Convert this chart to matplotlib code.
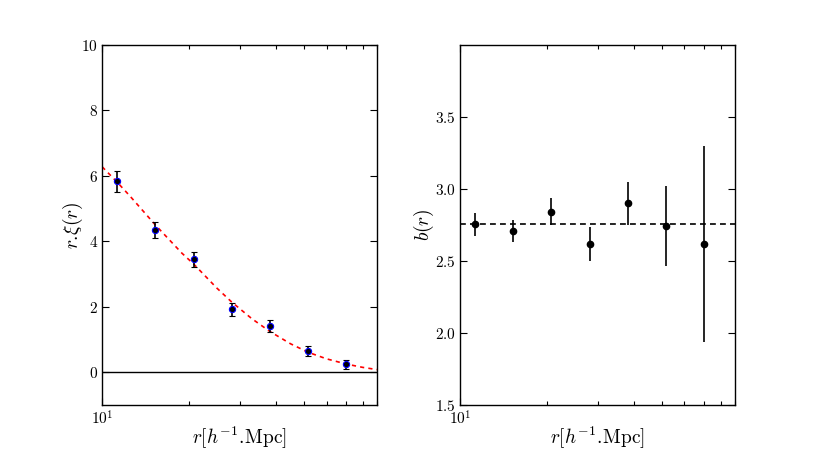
import matplotlib
matplotlib.use("Agg")
import matplotlib.pyplot as plt
from matplotlib.ticker import NullFormatter

plt.rcParams['font.family'] = 'serif'
plt.rcParams['font.serif'] = ['cmr10', 'DejaVu Serif']
plt.rcParams['mathtext.fontset'] = 'cm'
plt.rcParams['axes.formatter.use_mathtext'] = True
plt.rcParams['axes.unicode_minus'] = False

# data
r_bins = [11.27, 15.3, 20.75, 28.2, 38.2, 51.9, 70.3]
rxi = [5.83, 4.35, 3.45, 1.93, 1.41, 0.645, 0.24]
rxi_err = [0.33, 0.24, 0.24, 0.20, 0.18, 0.16, 0.15]

model_r = [10, 11.3, 12.5, 15.3, 18.9, 20.8, 25, 28.1, 33, 38.1, 45, 51.8, 60, 70.3, 80, 90]
model_rxi = [6.28, 5.80, 5.38, 4.50, 3.64, 3.30, 2.57, 2.15, 1.64, 1.25, 0.87, 0.61, 0.41, 0.25, 0.15, 0.08]

bias = [2.756, 2.708, 2.842, 2.617, 2.90, 2.745, 2.617]
bias_err = [0.079, 0.075, 0.093, 0.116, 0.15, 0.278, 0.68]
bias_mean = 2.754

left_yticks = [0, 2, 4, 6, 8, 10]
right_yticks = [1.5, 2.0, 2.5, 3.0, 3.5]

xlabel_text = r'$r[h^{-1}\mathrm{.}\!\mathrm{Mpc}]$'

fig, (ax1, ax2) = plt.subplots(1, 2, figsize=(8.17, 4.5), dpi=100)
fig.subplots_adjust(left=0.125, right=0.9, bottom=0.1, top=0.9, wspace=0.3)

# left panel
ax1.axhline(0, color='k', lw=1.0)
ax1.plot(model_r, model_rxi, color='red', ls=(0, (2.5, 2.5)), lw=1.2)
ax1.errorbar(r_bins, rxi, yerr=rxi_err, fmt='o', color='k', mfc='k', mec='b',
             ms=4.5, mew=0.8, ecolor='k', elinewidth=1.2, capsize=2.2, capthick=1.0)
ax1.set_xscale('log')
ax1.set_xlim(10, 90)
ax1.set_ylim(-1, 10)
ax1.set_yticks(left_yticks)
ax1.set_xlabel(xlabel_text, fontsize=14, labelpad=-1.5)
ax1.set_ylabel(r'$r\mathrm{.}\!\xi(r)$', fontsize=14, labelpad=-3)

# right panel
ax2.axhline(bias_mean, color='k', ls=(0, (3.5, 2.5)), lw=1.2)
ax2.errorbar(r_bins, bias, yerr=bias_err, fmt='o', color='k', ms=4.5,
             ecolor='k', elinewidth=1.2, capsize=0)
ax2.set_xscale('log')
ax2.set_xlim(10, 90)
ax2.set_ylim(1.5, 4.0)
ax2.set_yticks(right_yticks)
ax2.set_xlabel(xlabel_text, fontsize=14, labelpad=-1.5)
ax2.set_ylabel(r'$b(r)$', fontsize=14, labelpad=-1)

for ax in (ax1, ax2):
    ax.xaxis.set_minor_formatter(NullFormatter())
    ax.tick_params(which='both', direction='in', top=True, right=True, labelsize=11)
    ax.tick_params(which='major', length=5, width=0.8, pad=3)
    ax.tick_params(which='minor', length=3, width=0.8)
    for s in ax.spines.values():
        s.set_linewidth(1.0)

fig.savefig('out.png', dpi=100)
